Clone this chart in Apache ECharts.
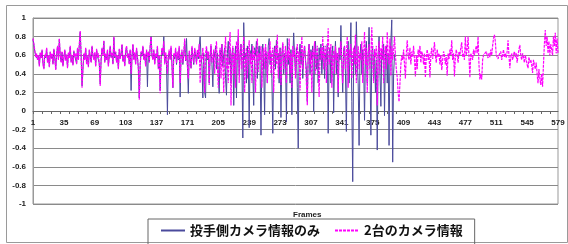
<!DOCTYPE html>
<html lang="ja">
<head>
<meta charset="UTF-8" />
<title>Frames</title>
<script src="https://cdn.jsdelivr.net/npm/echarts@6/dist/echarts.min.js"></script>
<style>
    * { margin: 0; padding: 0; }
    body { background: #fff; }
    #main { width: 568px; height: 244px; }
</style>
</head>
<body>
<div id="main"></div>
<script>
    // フレーム番号 1..579
    const frames = [];
    for (let i = 1; i <= 579; i++) frames.push(String(i));

    const seriesNames = ["投手側カメラ情報のみ", "2台のカメラ情報"];

    // 投手側カメラ情報のみ (frames 1-400)
    const pitcherOnly = [
        0.77,0.71,0.64,0.59,0.61,0.56,0.59,0.49,0.62,0.57,0.65,0.51,0.46,0.6,0.57,0.67,0.53,0.59,0.48,0.63,
        0.57,0.61,0.51,0.66,0.57,0.45,0.61,0.69,0.56,0.77,0.59,0.53,0.63,0.49,0.57,0.65,0.55,0.6,0.47,0.62,
        0.58,0.69,0.53,0.59,0.5,0.64,0.59,0.61,0.51,0.67,0.56,0.71,0.85,0.59,0.27,0.46,0.61,0.56,0.67,0.51,
        0.59,0.48,0.65,0.59,0.53,0.69,0.59,0.56,0.62,0.49,0.66,0.59,0.61,0.51,0.29,0.55,0.67,0.61,0.75,0.53,
        0.61,0.56,0.65,0.49,0.59,0.69,0.58,0.62,0.51,0.79,0.57,0.63,0.53,0.59,0.46,0.66,0.57,0.61,0.71,0.54,
        0.59,0.49,0.64,0.69,0.58,0.61,0.51,0.65,0.22,0.59,0.71,0.56,0.62,0.51,0.67,0.58,0.46,0.14,0.49,0.63,
        0.59,0.69,0.56,0.61,0.49,0.65,0.26,0.63,0.53,0.69,0.8,0.59,0.56,0.65,0.51,0.61,0.57,0.69,0.46,0.59,
        0.22,0.56,0.66,0.6,0.8,0.52,0.6,0.5,-0.04,0.58,0.64,0.56,0.68,0.5,0.25,0.6,0.56,0.66,0.5,0.62,
        0.55,0.68,0.15,0.6,0.64,0.5,0.6,0.75,0.54,0.78,0.5,0.19,0.62,0.56,0.46,0.68,0.58,0.5,0.66,0.6,
        0.52,0.64,0.56,0.7,0.8,0.58,0.5,0.14,0.62,0.2,0.14,0.68,0.55,0.62,0.3,0.58,0.7,0.5,0.26,0.64,
        0.58,0.7,0.45,0.62,0.4,0.19,0.66,0.55,0.72,0.48,0.6,0.68,0.35,0.17,0.62,0.75,0.5,0.66,0.3,0.6,
        0.68,0.06,0.55,0.7,0.14,0.62,0.8,0.4,0.6,0.72,0.5,-0.29,0.95,0.55,0.62,0.3,0.7,0.58,-0.18,0.65,
        0.55,0.72,0.4,0.06,0.68,0.6,0.75,0.35,0.62,0.7,0.5,-0.26,0.62,0.72,0.45,-0.04,0.66,0.6,0.3,0.7,
        0.78,0.5,0.62,0.35,-0.24,0.6,0.7,0.45,0.76,0.55,0.62,0.3,0.68,-0.07,0.6,0.72,0.4,0.62,0.55,-0.12,
        0.78,0.5,0.6,0.3,0.66,-0.04,0.55,0.84,0.6,0.4,0.68,0.25,-0.4,0.6,0.72,0.5,0.66,0.35,0.6,0.7,
        0.55,0.45,0.1,0.62,0.72,0.4,0.66,0.55,0.7,-0.01,0.6,0.75,0.45,0.62,0.3,0.68,0.55,0.72,0.4,0.62,
        0.7,0.35,0.6,0.55,0.72,-0.24,0.6,0.68,0.3,0.62,0.7,-0.02,0.55,0.75,0.4,0.62,0.15,0.68,0.55,0.92,
        0.5,0.2,0.66,0.7,0.4,-0.22,0.62,0.75,0.3,0.6,0.95,0.1,-0.76,0.6,0.7,0.4,0.96,0.55,0.3,-0.37,
        0.6,0.72,0.4,0.66,0.55,-0.1,0.62,0.75,0.3,0.6,0.9,0.5,-0.26,0.62,0.7,0.35,0.66,0.2,0.55,-0.42,
        0.6,0.8,0.4,0.05,0.66,0.55,0.72,-0.05,0.6,0.7,0.3,0.62,-0.37,0.6,0.75,0.98,-0.55,0.4,0.6,0.62
    ];

    // 2台のカメラ情報 (frames 1-579)
    const twoCameras = [
        0.78,0.72,0.65,0.58,0.62,0.55,0.6,0.48,0.63,0.57,0.66,0.5,0.45,0.61,0.58,0.68,0.52,0.6,0.47,0.64,
        0.56,0.62,0.5,0.67,0.58,0.44,0.6,0.7,0.55,0.78,0.6,0.52,0.64,0.48,0.58,0.66,0.54,0.61,0.46,0.63,
        0.57,0.7,0.52,0.6,0.49,0.65,0.58,0.62,0.5,0.68,0.55,0.72,0.86,0.6,0.25,0.45,0.62,0.55,0.68,0.5,
        0.6,0.47,0.66,0.58,0.52,0.7,0.6,0.55,0.63,0.48,0.67,0.58,0.62,0.5,0.27,0.56,0.68,0.6,0.76,0.52,
        0.62,0.55,0.66,0.48,0.6,0.7,0.57,0.63,0.5,0.8,0.58,0.64,0.52,0.6,0.45,0.67,0.56,0.62,0.72,0.53,
        0.6,0.48,0.65,0.7,0.57,0.62,0.5,0.66,0.4,0.6,0.72,0.55,0.63,0.5,0.68,0.58,0.45,0.12,0.5,0.64,
        0.6,0.7,0.55,0.62,0.48,0.66,0.58,0.64,0.52,0.7,0.8,0.6,0.55,0.66,0.5,0.62,0.58,0.7,0.45,0.6,
        0.19,0.55,0.68,0.62,0.75,0.5,0.63,0.58,0.4,0.6,0.66,0.55,0.7,0.48,0.25,0.62,0.58,0.68,0.52,0.64,
        0.56,0.7,0.3,0.6,0.66,0.52,0.62,0.78,0.55,0.6,0.48,0.35,0.65,0.58,0.46,0.7,0.6,0.52,0.68,0.62,
        0.5,0.66,0.58,0.72,0.3,0.6,0.55,0.68,0.48,0.2,0.62,0.7,0.56,0.64,0.28,0.6,0.72,0.52,0.58,0.66,
        0.4,0.62,0.75,0.5,0.25,0.6,0.68,0.35,0.72,0.55,0.2,0.62,0.8,0.45,0.58,0.3,0.66,0.85,0.06,0.6,
        0.7,0.4,0.62,0.25,0.75,0.55,0.88,0.3,0.6,0.72,0.45,0.62,0.8,0.2,0.58,0.68,0.35,0.6,0.76,0.5,
        0.62,0.3,0.7,0.55,0.66,0.2,0.6,0.78,0.42,0.62,0.55,0.7,0.25,0.6,0.68,0.45,0.72,0.58,0.3,0.64,
        0.55,0.75,0.4,0.62,0.68,0.2,0.6,0.7,0.5,0.82,0.35,0.6,0.66,0.28,0.62,0.74,0.45,0.58,0.7,0.3,
        0.65,0.55,0.78,0.4,0.62,0.25,0.7,0.58,0.66,0.35,0.6,0.72,0.5,0.64,0.22,0.6,0.8,0.45,0.62,0.7,
        0.55,0.3,0.06,0.6,0.72,0.5,0.64,0.2,0.66,0.58,0.75,0.4,0.62,0.7,0.48,0.15,0.6,0.68,0.55,0.8,
        0.45,0.62,0.7,0.3,0.66,0.89,0.5,0.6,0.72,0.25,0.58,0.65,0.4,0.7,0.55,0.62,0.2,0.68,0.6,0.75,
        0.5,0.3,0.62,0.7,0.45,0.6,0.8,0.25,0.66,0.58,0.72,0.35,0.6,0.68,0.5,0.82,0.3,0.6,0.7,0.45,
        0.62,0.55,0.75,0.3,0.6,0.85,0.5,0.68,0.2,0.62,0.72,0.45,0.6,0.9,0.55,0.3,0.66,0.58,0.7,0.06,
        0.6,0.75,0.4,0.68,0.55,0.8,0.3,0.62,0.7,0.45,0.85,0.6,0.5,0.78,0.38,0.7,0.55,0.65,0.8,0.6,
        0.45,0.36,0.2,0.1,0.3,0.5,0.6,0.55,0.66,0.5,0.35,0.62,0.76,0.6,0.55,0.68,0.5,0.64,0.58,0.7,
        0.55,0.37,0.6,0.45,0.66,0.58,0.7,0.52,0.64,0.6,0.5,0.62,0.36,0.58,0.66,0.55,0.62,0.36,0.6,0.68,
        0.56,0.64,0.74,0.6,0.52,0.66,0.58,0.62,0.5,0.6,0.44,0.55,0.64,0.6,0.5,0.58,0.38,0.62,0.56,0.66,
        0.6,0.76,0.55,0.62,0.37,0.58,0.66,0.6,0.52,0.64,0.6,0.68,0.74,0.58,0.62,0.55,0.8,0.6,0.66,0.8,
        0.58,0.36,0.62,0.6,0.55,0.66,0.6,0.58,0.7,0.62,0.8,0.5,0.34,0.4,0.34,0.55,0.6,0.62,0.58,0.64,
        0.6,0.57,0.62,0.58,0.66,0.6,0.7,0.78,0.82,0.75,0.6,0.62,0.56,0.6,0.58,0.64,0.55,0.6,0.66,0.58,
        0.62,0.57,0.64,0.76,0.6,0.46,0.58,0.62,0.55,0.6,0.64,0.58,0.62,0.52,0.6,0.66,0.71,0.6,0.55,0.62,
        0.58,0.52,0.6,0.55,0.5,0.46,0.58,0.52,0.55,0.5,0.41,0.55,0.5,0.45,0.52,0.4,0.3,0.45,0.35,0.28,
        0.4,0.26,0.5,0.72,0.87,0.7,0.8,0.62,0.75,0.6,0.72,0.66,0.6,0.8,0.7,0.84,0.62,0.78,0.62
    ];

    var myChart = echarts.init(document.getElementById("main"));
    var labelFont = { fontSize: 8, fontWeight: "bold", color: "#222", fontFamily: "Liberation Sans" };
    var option = {
        animation: false,
        backgroundColor: "#fff",
        graphic: [
            {
                type: "rect",
                shape: { x: 6.5, y: 5.5, width: 561, height: 237 },
                style: { fill: "none", stroke: "#9a9a9a", lineWidth: 1 },
                silent: true
            }
        ],
        title: {
            text: "Frames",
            left: 288,
            top: 206,
            textStyle: { fontSize: 8, fontWeight: "bold", color: "#222", fontFamily: "Liberation Sans" }
        },
        legend: {
            data: seriesNames,
            left: 148,
            top: 219,
            padding: [5, 12, 8, 12],
            itemGap: 14,
            itemWidth: 24,
            itemHeight: 10,
            borderColor: "#666",
            borderWidth: 1,
            itemStyle: { opacity: 0 },
            textStyle: { fontSize: 13, fontWeight: "bold", color: "#111", fontFamily: "Noto Sans CJK JP" }
        },
        grid: { left: 33, right: 10, top: 18, bottom: 40, show: true, borderColor: "#999", borderWidth: 1 },
        xAxis: {
            type: "category",
            data: frames,
            boundaryGap: false,
            offset: -93,
            axisLine: { onZero: false, lineStyle: { color: "#666" } },
            axisTick: { show: true, interval: 9, length: 3, lineStyle: { color: "#666" } },
            axisLabel: Object.assign({ interval: 33, margin: 8 }, labelFont),
            splitLine: { show: false }
        },
        yAxis: {
            type: "value",
            min: -1,
            max: 1,
            interval: 0.2,
            axisLine: { show: true, lineStyle: { color: "#999" } },
            axisTick: { show: false },
            axisLabel: Object.assign({ margin: 7 }, labelFont),
            splitLine: { lineStyle: { color: "#8a8a8a", width: 1 } }
        },
        series: [
            {
                name: seriesNames[0],
                type: "line",
                data: pitcherOnly,
                symbol: "none",
                lineStyle: { color: "#4a4a9c", width: 1 },
                itemStyle: { color: "#4a4a9c" }
            },
            {
                name: seriesNames[1],
                type: "line",
                data: twoCameras,
                symbol: "none",
                lineStyle: { color: "#ff00ff", width: 1.2, type: [3, 1] },
                itemStyle: { color: "#ff00ff" }
            }
        ]
    };
    option && myChart.setOption(option);
</script>
</body>
</html>
